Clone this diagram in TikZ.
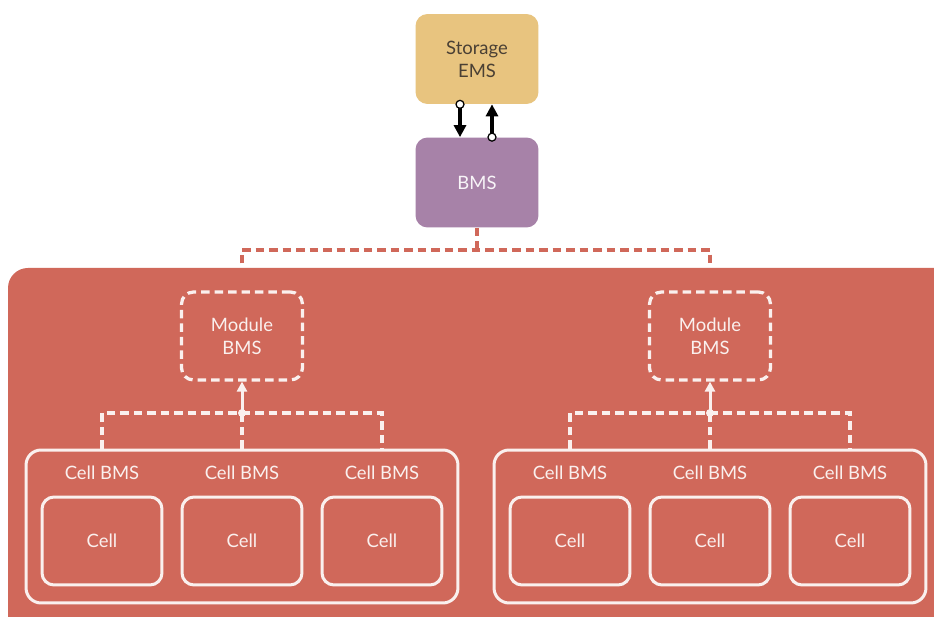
\documentclass[tikz,border=0pt]{standalone}
\usepackage{fontspec}
\setmainfont{Lato}
\usetikzlibrary{positioning,arrows.meta}

\definecolor{packred}{HTML}{D0685A}
\definecolor{emstan}{HTML}{E8C47F}
\definecolor{emstext}{HTML}{4A4034}
\definecolor{bmspurple}{HTML}{A782A8}
\colorlet{softwhite}{white!90!packred}

\begin{document}
\begin{tikzpicture}[x=0.02cm,y=-0.02cm,
        every node/.style={font=\fontsize{10.5}{13}\selectfont, align=center},
        box/.style={rounded corners=0.24cm, minimum width=2.46cm, minimum height=1.8cm},
        modbox/.style={draw=softwhite, line width=0.065cm, dash pattern=on 0.17cm off 0.1cm,
            rounded corners=0.24cm, minimum width=2.42cm, minimum height=1.76cm, text=softwhite},
        cellbox/.style={draw=softwhite, line width=0.06cm, rounded corners=0.24cm,
            minimum width=2.4cm, minimum height=1.76cm, text=softwhite},
        groupbox/.style={draw=softwhite, line width=0.06cm, rounded corners=0.3cm,
            minimum width=8.64cm, minimum height=3.06cm},
        redlink/.style={packred, line width=0.065cm, dash pattern=on 0.17cm off 0.1cm},
        whitelink/.style={softwhite, line width=0.065cm, dash pattern=on 0.17cm off 0.1cm},
        signal/.style={line width=0.07cm, -{Triangle[length=0.24cm,width=0.24cm]}}]
    \clip (0,0) rectangle (934,617);
    \fill[white] (0,0) rectangle (934,617);
    % battery pack
    \fill[packred, rounded corners=0.4cm] (8,268) rectangle (980,660);

    \node[box, fill=emstan, text=emstext] (ems) at (477,59) {Storage\\EMS};
    \node[box, fill=bmspurple, text=white!92!bmspurple] (bms) at (477,182.5) {BMS};

    % EMS <-> BMS
    \coordinate (down) at ([xshift=-0.34cm]ems.south);
    \coordinate (up) at ([xshift=0.3cm]bms.north);
    \draw[signal] (down) -- (down |- bms.north);
    \draw[signal] (up) -- (up |- ems.south);
    \filldraw[fill=white, line width=0.025cm] (down) circle (0.08cm) (up) circle (0.08cm);

    \node[modbox] (modL) at (242,336) {Module\\BMS};
    \node[modbox] (modR) at (710,336) {Module\\BMS};

    \coordinate (split) at (477,250);
    \draw[redlink] (bms.south) -- (split);
    \draw[redlink] (modL.north) |- (split) -| (modR.north);

    \foreach \g/\cx in {L/242, R/710} {
        \node[groupbox] (grp\g) at (\cx,526.5) {};
        \foreach \i/\dx in {1/-140, 2/0, 3/140} {
            \node[text=softwhite] (lab\g\i) at (\cx+\dx,473) {Cell BMS};
            \node[cellbox] (cell\g\i) at (\cx+\dx,541) {Cell};
        }
        \coordinate (bus\g) at (\cx,413);
        \draw[whitelink] (lab\g1 |- grp\g.north) |- (bus\g) -| (lab\g3 |- grp\g.north);
        \draw[whitelink] (lab\g2 |- grp\g.north) -- (bus\g);
        \draw[softwhite, line width=0.06cm, -{Triangle[length=0.2cm,width=0.2cm]}] (bus\g) -- (mod\g.south);
        \fill[softwhite] (bus\g) circle (0.08cm);
    }
\end{tikzpicture}
\end{document}
